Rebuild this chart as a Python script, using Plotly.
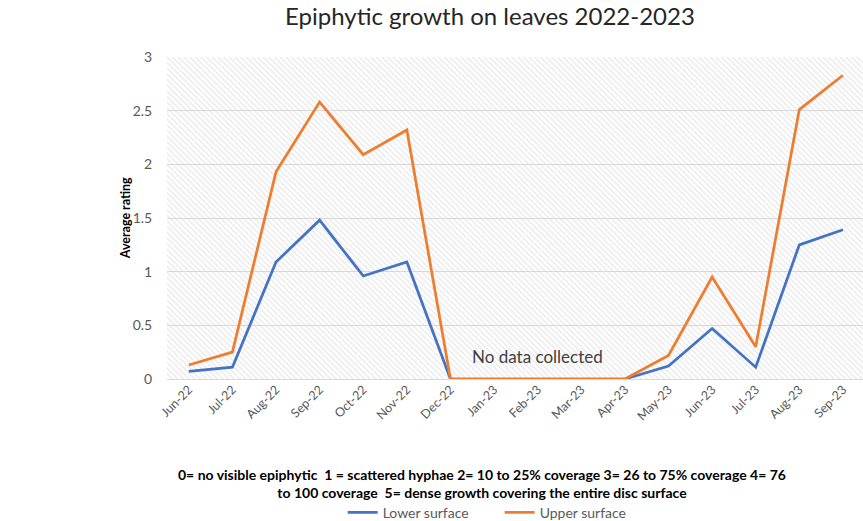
import plotly.graph_objects as go

# Monthly sampling dates and average epiphytic ratings
months = ["Jun-22", "Jul-22", "Aug-22", "Sep-22", "Oct-22", "Nov-22", "Dec-22",
          "Jan-23", "Feb-23", "Mar-23", "Apr-23", "May-23", "Jun-23", "Jul-23",
          "Aug-23", "Sep-23"]
lower_surface = [0.07, 0.11, 1.09, 1.48, 0.96, 1.09, 0, 0, 0, 0, 0, 0.12, 0.47, 0.11, 1.25, 1.39]
upper_surface = [0.13, 0.25, 1.93, 2.58, 2.09, 2.32, 0, 0, 0, 0, 0, 0.22, 0.95, 0.30, 2.51, 2.83]

y_ticks = [0, 0.5, 1, 1.5, 2, 2.5, 3]
y_tick_text = ["0", "0.5", "1", "1.5", "2", "2.5", "3"]

FONT = "Lato"
BLUE = "#4472C4"
ORANGE = "#ED7D31"
AXIS_TEXT = "#595959"

x_idx = list(range(len(months)))
x_lo, x_hi = -0.5, len(months) - 1 + 0.46
y_lo, y_hi = y_ticks[0], y_ticks[-1]

fig = go.Figure()

# Hatched plot-area background (transparent gaps so gridlines show through)
fig.add_trace(go.Scatter(
    x=[x_lo, x_hi, x_hi, x_lo, x_lo],
    y=[y_lo, y_lo, y_hi, y_hi, y_lo],
    mode="lines", line=dict(width=0), fill="toself",
    fillcolor="rgba(0,0,0,0)",
    fillpattern=dict(shape="\\", size=4, solidity=0.35,
                     fgcolor="#d4d4d4", bgcolor="rgba(0,0,0,0)"),
    showlegend=False, hoverinfo="skip",
))

fig.add_trace(go.Scatter(
    x=x_idx, y=lower_surface, mode="lines", name="Lower surface",
    line=dict(color=BLUE, width=2.75),
))
fig.add_trace(go.Scatter(
    x=x_idx, y=upper_surface, mode="lines", name="Upper surface",
    line=dict(color=ORANGE, width=2.75),
))

fig.update_layout(
    width=863, height=521,
    margin=dict(l=167, r=0, t=57, b=142),
    paper_bgcolor="white", plot_bgcolor="white",
    font=dict(family=FONT, size=12, color=AXIS_TEXT),
    showlegend=True,
    legend=dict(
        orientation="h", xref="container", yref="container",
        x=0.579, xanchor="center", y=0.016, yanchor="middle",
        font=dict(family=FONT, size=14, color=AXIS_TEXT),
        itemwidth=30, entrywidth=112, tracegroupgap=0,
    ),
    xaxis=dict(
        range=[x_lo, x_hi], tickmode="array", tickvals=x_idx, ticktext=months,
        tickangle=-45, showgrid=False, zeroline=False, showline=False,
        ticks="", tickfont=dict(family=FONT, size=12.5, color=AXIS_TEXT),
    ),
    yaxis=dict(
        range=[y_lo, y_hi], tickmode="array", tickvals=y_ticks, ticktext=y_tick_text,
        showgrid=True, gridcolor="#d9d9d9", gridwidth=1,
        zeroline=True, zerolinecolor="#d9d9d9", zerolinewidth=1,
        showline=False, ticks="outside", ticklen=11, tickcolor="rgba(0,0,0,0)",
        tickfont=dict(family=FONT, size=14, color=AXIS_TEXT),
    ),
)

# Chart title
fig.add_annotation(
    text="Epiphytic growth on leaves 2022-2023",
    xref="paper", yref="paper", x=0.464, y=1.128,
    xanchor="center", yanchor="middle", showarrow=False,
    font=dict(family=FONT, size=24, color="#262626"),
)

# Y-axis title
fig.add_annotation(
    text="<b>Average rating</b>", textangle=-90,
    xref="paper", yref="paper", x=-0.060, y=0.5,
    xanchor="center", yanchor="middle", showarrow=False,
    font=dict(family=FONT, size=12.5, color="#000000"),
)

# Gap in sampling over winter
fig.add_annotation(
    text="No data collected", xref="x", yref="y", x=8, y=0.21,
    xanchor="center", yanchor="middle", showarrow=False,
    font=dict(family=FONT, size=17, color="#404040"),
)

# Rating scale key
fig.add_annotation(
    text=("<b>0= no visible epiphytic  1 = scattered hyphae 2= 10 to 25% coverage "
          "3= 26 to 75% coverage 4= 76<br>to 100 coverage  5= dense growth covering "
          "the entire disc surface</b>"),
    xref="paper", yref="paper", x=0.4526, y=-0.323,
    xanchor="center", yanchor="middle", showarrow=False, align="center",
    font=dict(family=FONT, size=14, color="#000000"),
)

fig.write_html("out.html")
